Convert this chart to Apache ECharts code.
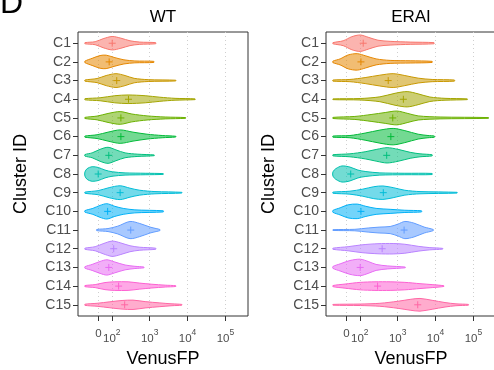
<!DOCTYPE html>
<html>
<head>
<meta charset="utf-8">
<script src="https://cdn.jsdelivr.net/npm/echarts@6/dist/echarts.min.js"></script>
<style>
  html, body { margin: 0; padding: 0; background: #fff; }
  #chart { width: 494px; height: 370px; }
</style>
</head>
<body>
<div id="chart"></div>
<script>
const clusters = ["C1", "C2", "C3", "C4", "C5", "C6", "C7", "C8", "C9", "C10", "C11", "C12", "C13", "C14", "C15"]
// ggplot hue palette for 15 groups
const colors = ["#F8766D", "#E58700", "#C99800", "#A3A500", "#6BB100", "#00BA38", "#00BF7D", "#00C0AF",
  "#00BCD8", "#00B0F6", "#619CFF", "#B983FF", "#E76BF3", "#FD61D1", "#FF67A4"]

// x breaks in log10(VenusFP) units ("0" sits on the pseudo-log part of the scale)
const breakPos = [1.65, 2, 3, 4, 5]
const breakLabels = ["0", "10^2", "10^3", "10^4", "10^5"]

// violin outlines: knots along x (log10 VenusFP) and half-width (in cluster rows)
const wtPos = [
  [1.29, 1.56, 1.77, 2.01, 2.24, 2.48, 2.74, 3.16],
  [1.29, 1.48, 1.69, 1.85, 2.06, 2.32, 2.61, 3.11],
  [1.29, 1.61, 1.85, 2.11, 2.35, 2.59, 2.96, 3.69],
  [1.29, 1.69, 2.08, 2.43, 2.88, 3.27, 3.67, 4.20],
  [1.29, 1.61, 1.90, 2.22, 2.53, 2.93, 3.41, 3.95],
  [1.29, 1.61, 1.90, 2.22, 2.56, 2.93, 3.33, 3.69],
  [1.29, 1.48, 1.69, 1.90, 2.11, 2.35, 2.69, 3.12],
  [1.29, 1.35, 1.48, 1.64, 1.82, 2.01, 2.35, 2.88, 3.36],
  [1.29, 1.64, 1.93, 2.22, 2.48, 2.74, 3.14, 3.85],
  [1.29, 1.50, 1.69, 1.87, 2.08, 2.30, 2.61, 3.36],
  [1.60, 1.90, 2.16, 2.48, 2.74, 3.01, 3.17, 3.27],
  [1.29, 1.56, 1.77, 2.01, 2.22, 2.48, 2.74, 3.16],
  [1.29, 1.48, 1.69, 1.87, 2.08, 2.35, 2.61, 2.85],
  [1.29, 1.56, 1.82, 2.08, 2.43, 2.74, 3.06, 3.41, 3.69],
  [1.29, 1.61, 1.95, 2.27, 2.56, 2.88, 3.27, 3.59, 3.85]
]
const wtHalf = [
  [0.03, 0.08, 0.24, 0.36, 0.27, 0.13, 0.06, 0.03],
  [0.04, 0.19, 0.34, 0.36, 0.24, 0.11, 0.05, 0.03],
  [0.03, 0.11, 0.27, 0.37, 0.27, 0.12, 0.05, 0.02],
  [0.03, 0.08, 0.19, 0.23, 0.19, 0.11, 0.05, 0.02],
  [0.03, 0.10, 0.24, 0.34, 0.21, 0.11, 0.05, 0.02],
  [0.03, 0.10, 0.24, 0.36, 0.24, 0.13, 0.06, 0.02],
  [0.04, 0.13, 0.32, 0.43, 0.29, 0.13, 0.06, 0.02],
  [0.11, 0.29, 0.39, 0.35, 0.21, 0.12, 0.06, 0.04, 0.02],
  [0.03, 0.11, 0.27, 0.37, 0.24, 0.13, 0.06, 0.02],
  [0.04, 0.16, 0.32, 0.41, 0.27, 0.16, 0.08, 0.03],
  [0.03, 0.08, 0.21, 0.46, 0.35, 0.16, 0.08, 0.03],
  [0.03, 0.11, 0.27, 0.41, 0.32, 0.16, 0.08, 0.03],
  [0.04, 0.16, 0.32, 0.41, 0.29, 0.13, 0.06, 0.02],
  [0.03, 0.08, 0.19, 0.23, 0.23, 0.16, 0.10, 0.05, 0.02],
  [0.03, 0.08, 0.16, 0.23, 0.25, 0.17, 0.10, 0.05, 0.02]
]
const wtMean = [2.01, 1.93, 2.13, 2.44, 2.24, 2.24, 1.92, 1.64, 2.22, 1.89, 2.50, 2.05, 1.92, 2.18, 2.34]

const eraiPos = [
  [1.29, 1.56, 1.79, 2.01, 2.22, 2.48, 2.80, 3.33, 3.96],
  [1.29, 1.48, 1.69, 1.93, 2.16, 2.43, 2.80, 3.33, 3.91],
  [1.29, 1.74, 2.14, 2.53, 2.88, 3.19, 3.54, 3.91, 4.50],
  [1.29, 2.01, 2.53, 2.93, 3.25, 3.54, 3.85, 4.25, 4.84],
  [1.29, 1.87, 2.32, 2.67, 2.98, 3.27, 3.54, 4.12, 5.40],
  [1.29, 1.74, 2.14, 2.53, 2.88, 3.19, 3.54, 3.80, 3.97],
  [1.29, 1.74, 2.14, 2.45, 2.72, 3.01, 3.33, 3.59, 3.91],
  [1.29, 1.37, 1.53, 1.74, 1.95, 2.16, 2.53, 3.19, 3.91],
  [1.29, 1.74, 2.08, 2.37, 2.61, 2.88, 3.19, 3.59, 4.57],
  [1.29, 1.48, 1.69, 1.93, 2.16, 2.43, 2.80, 3.19, 3.63],
  [1.29, 1.87, 2.22, 2.53, 2.80, 3.01, 3.19, 3.43, 3.70, 3.94],
  [1.29, 1.69, 2.06, 2.48, 2.88, 3.19, 3.54, 3.85, 4.19],
  [1.29, 1.48, 1.74, 2.01, 2.22, 2.43, 2.74, 3.20],
  [1.29, 1.61, 2.01, 2.40, 2.80, 3.19, 3.59, 3.91, 4.22],
  [1.29, 2.01, 2.53, 3.01, 3.33, 3.59, 3.91, 4.25, 4.54, 4.87]
]
const eraiHalf = [
  [0.03, 0.13, 0.35, 0.44, 0.32, 0.16, 0.10, 0.06, 0.03],
  [0.04, 0.16, 0.37, 0.44, 0.32, 0.16, 0.08, 0.06, 0.03],
  [0.03, 0.06, 0.16, 0.29, 0.37, 0.27, 0.13, 0.06, 0.03],
  [0.02, 0.04, 0.13, 0.32, 0.41, 0.29, 0.12, 0.05, 0.02],
  [0.03, 0.08, 0.19, 0.29, 0.37, 0.24, 0.11, 0.05, 0.02],
  [0.03, 0.06, 0.19, 0.35, 0.44, 0.32, 0.13, 0.06, 0.03],
  [0.03, 0.08, 0.19, 0.32, 0.41, 0.32, 0.16, 0.08, 0.03],
  [0.11, 0.29, 0.43, 0.37, 0.21, 0.13, 0.06, 0.04, 0.03],
  [0.03, 0.08, 0.19, 0.32, 0.36, 0.27, 0.13, 0.06, 0.02],
  [0.05, 0.19, 0.35, 0.39, 0.27, 0.16, 0.11, 0.06, 0.03],
  [0.02, 0.04, 0.11, 0.16, 0.19, 0.32, 0.46, 0.37, 0.16, 0.03],
  [0.03, 0.11, 0.21, 0.27, 0.28, 0.24, 0.13, 0.06, 0.02],
  [0.05, 0.19, 0.37, 0.44, 0.32, 0.16, 0.08, 0.02],
  [0.03, 0.11, 0.20, 0.23, 0.23, 0.20, 0.13, 0.08, 0.02],
  [0.02, 0.04, 0.08, 0.19, 0.29, 0.34, 0.24, 0.12, 0.05, 0.02]
]
const eraiMean = [2.09, 2.03, 2.75, 3.15, 2.87, 2.82, 2.71, 1.76, 2.62, 2.03, 3.17, 2.59, 2.01, 2.47, 3.53]

const FONT = "Liberation Sans, Arial, Helvetica, sans-serif"

function withAlpha(hex, a) {
  const n = parseInt(hex.slice(1), 16)
  return `rgba(${(n >> 16) & 255},${(n >> 8) & 255},${n & 255},${a})`
}

function violinRenderer(pos, half, mean) {
  return (params, api) => {
    const i = params.dataIndex
    const top = pos[i].map((u, k) => api.coord([u, i - half[i][k]]))
    const bottom = pos[i].map((u, k) => api.coord([u, i + half[i][k]])).reverse()
    const m = api.coord([mean[i], i])
    const c = colors[i]
    const s = 3.5
    return {
      type: "group",
      children: [
        {
          type: "polygon",
          shape: { points: top.concat(bottom), smooth: 0.3 },
          style: { fill: withAlpha(c, 0.55), stroke: c, lineWidth: 1 }
        },
        { type: "line", shape: { x1: m[0] - s, y1: m[1], x2: m[0] + s, y2: m[1] }, style: { stroke: c, lineWidth: 1 } },
        { type: "line", shape: { x1: m[0], y1: m[1] - s, x2: m[0], y2: m[1] + s }, style: { stroke: c, lineWidth: 1 } }
      ]
    }
  }
}

const panels = [
  { title: "WT", left: 78, pos: wtPos, half: wtHalf, mean: wtMean },
  { title: "ERAI", left: 326, pos: eraiPos, half: eraiHalf, mean: eraiMean }
]
const plotWidth = 170
const rowIdx = clusters.map((_, i) => i)

const option = {
  animation: false,
  textStyle: { fontFamily: FONT },
  title: panels.map((p) => ({
    text: p.title,
    left: p.left + plotWidth / 2,
    top: 9,
    padding: 0,
    textAlign: "center",
    textStyle: { fontFamily: FONT, fontSize: 17, fontWeight: "normal", color: "#000" }
  })),
  graphic: [
    { type: "text", left: 0, top: -12, style: { text: "D", font: "32px " + FONT, fill: "#000" } }
  ],
  grid: panels.map((p) => ({
    left: p.left,
    top: 32,
    width: plotWidth,
    height: 284,
    outerBoundsMode: "none",
    containLabel: false,
    show: true,
    borderColor: "#333",
    borderWidth: 1,
    backgroundColor: "transparent"
  })),
  xAxis: panels.map((p, gi) => ({
    type: "value",
    gridIndex: gi,
    position: "bottom",
    min: 1.107,
    max: 5.597,
    name: "VenusFP",
    nameLocation: "middle",
    nameGap: 30,
    nameTextStyle: { fontFamily: FONT, fontSize: 18, color: "#000" },
    axisLine: { show: false, onZero: false },
    axisTick: { show: true, customValues: breakPos, length: 5, lineStyle: { color: "#333", width: 1 } },
    axisLabel: {
      customValues: breakPos,
      margin: 12,
      hideOverlap: false,
      showMinLabel: true,
      showMaxLabel: true,
      color: "#4D4D4D",
      formatter: (v) => {
        const lab = breakLabels[breakPos.indexOf(v)] || ""
        if (lab.indexOf("^") < 0) return "{z|" + lab + "}"
        const parts = lab.split("^")
        return "{b|" + parts[0] + "}{s|" + parts[1] + "}"
      },
      rich: {
        z: { fontFamily: FONT, fontSize: 11.5, lineHeight: 11, color: "#4D4D4D" },
        b: { fontFamily: FONT, fontSize: 11.5, lineHeight: 17, verticalAlign: "bottom", color: "#4D4D4D" },
        s: { fontFamily: FONT, fontSize: 8.5, lineHeight: 6, verticalAlign: "top", color: "#4D4D4D" }
      }
    },
    splitLine: { show: true, lineStyle: { color: "#CFCFCF", type: [1, 3], width: 1 } }
  })),
  yAxis: panels.map((p, gi) => ({
    type: "value",
    gridIndex: gi,
    position: "left",
    inverse: true,
    min: -0.6,
    max: 14.6,
    name: "Cluster ID",
    nameLocation: "middle",
    nameGap: 48,
    nameTextStyle: { fontFamily: FONT, fontSize: 18, color: "#000" },
    axisLine: { show: false, onZero: false },
    axisTick: { show: true, customValues: rowIdx, length: 5, lineStyle: { color: "#333", width: 1 } },
    axisLabel: {
      customValues: rowIdx,
      margin: 7,
      hideOverlap: false,
      fontFamily: FONT,
      fontSize: 14,
      color: "#4D4D4D",
      formatter: (v) => clusters[v] || ""
    },
    splitLine: { show: false }
  })),
  series: panels.map((p, gi) => ({
    type: "custom",
    xAxisIndex: gi,
    yAxisIndex: gi,
    data: p.mean.map((m, i) => [m, i]),
    renderItem: violinRenderer(p.pos, p.half, p.mean),
    z: 3
  }))
}

const chart = echarts.init(document.getElementById("chart"))
chart.setOption(option)
</script>
</body>
</html>
